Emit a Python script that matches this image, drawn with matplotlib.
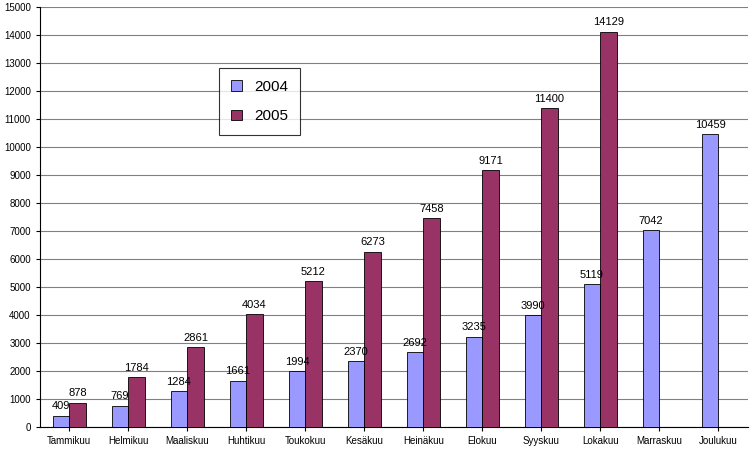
import matplotlib.pyplot as plt
import numpy as np

months = ['Tammikuu', 'Helmikuu', 'Maaliskuu', 'Huhtikuu', 'Toukokuu', 'Kesäkuu',
          'Heinäkuu', 'Elokuu', 'Syyskuu', 'Lokakuu', 'Marraskuu', 'Joulukuu']
v2004 = [409, 769, 1284, 1661, 1994, 2370, 2692, 3235, 3990, 5119, 7042, 10459]
v2005 = [878, 1784, 2861, 4034, 5212, 6273, 7458, 9171, 11400, 14129, None, None]

fig = plt.figure(figsize=(7.5, 4.51), dpi=100)
ax = fig.add_axes([0.053, 0.053, 0.944, 0.931])

x = np.arange(len(months))
w = 0.28
b1 = ax.bar(x - w / 2, v2004, w, color='#9999FF', edgecolor='black', linewidth=0.6, label='2004', zorder=3)
x2 = [xi for xi, v in zip(x, v2005) if v is not None]
y2 = [v for v in v2005 if v is not None]
b2 = ax.bar(np.array(x2) + w / 2, y2, w, color='#993366', edgecolor='black', linewidth=0.6, label='2005', zorder=3)

for bars in (b1, b2):
    for r in bars:
        ax.text(r.get_x() + r.get_width() / 2, r.get_height() + 150, f'{int(r.get_height())}',
                ha='center', va='bottom', fontsize=8, family='Liberation Sans')

ax.set_xlim(-0.5, len(months) - 0.5)
ax.set_ylim(0, 15000)
ax.set_yticks(range(0, 15001, 1000))
ax.set_xticks(x)
ax.set_xticklabels(months)
ax.tick_params(labelsize=7, length=3)
for lab in ax.get_xticklabels() + ax.get_yticklabels():
    lab.set_family('Liberation Sans')
ax.grid(axis='y', color='#808080', linewidth=0.8, zorder=0)
for s in ['top', 'right']:
    ax.spines[s].set_visible(False)

leg = ax.legend(loc='upper left', bbox_to_anchor=(0.242, 0.874), fontsize=11, frameon=True,
                fancybox=False, edgecolor='black', handlelength=0.7, handleheight=0.7,
                labelspacing=1.0, borderpad=0.8, prop={'family': 'Liberation Sans', 'size': 11})
leg.get_frame().set_linewidth(0.8)

fig.savefig('out.png', dpi=100)
